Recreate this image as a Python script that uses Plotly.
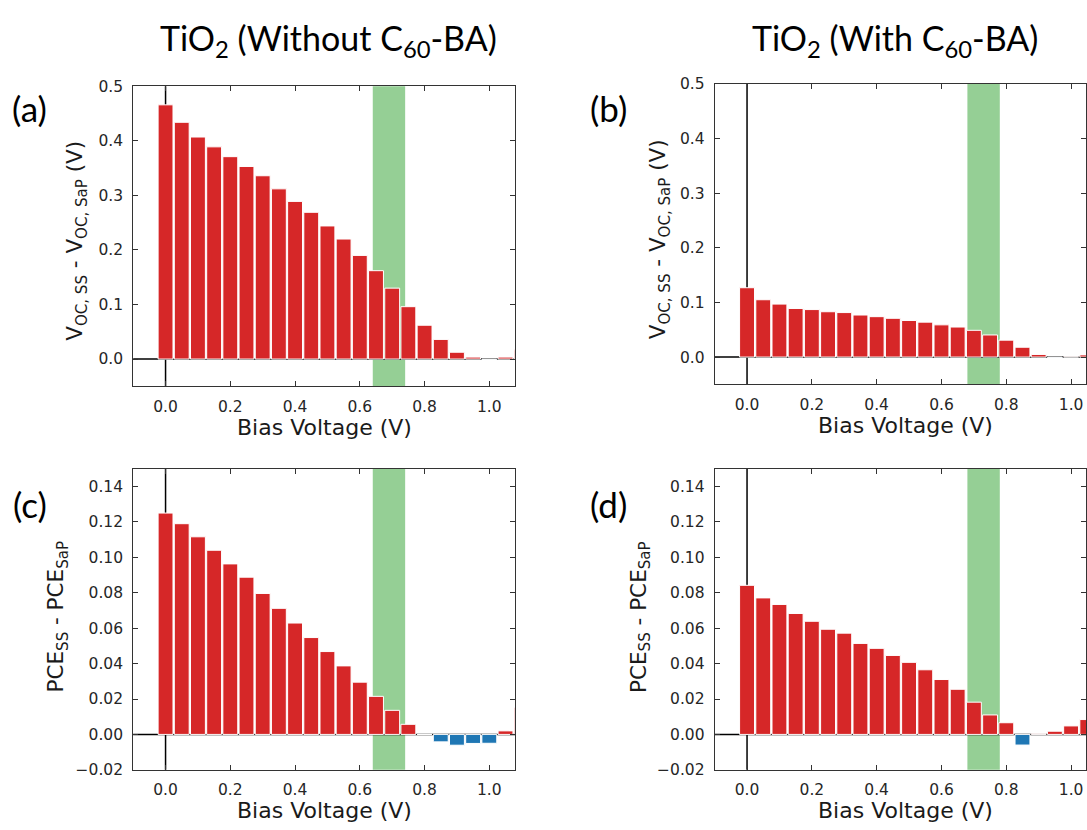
import plotly.graph_objects as go

W, H = 1087, 830

bias = [0.00, 0.05, 0.10, 0.15, 0.20, 0.25, 0.30, 0.35, 0.40, 0.45, 0.50,
        0.55, 0.60, 0.65, 0.70, 0.75, 0.80, 0.85, 0.90, 0.95, 1.00, 1.05, 1.10]

voc_without = [0.466, 0.434, 0.407, 0.389, 0.371, 0.353, 0.336, 0.312, 0.289, 0.269, 0.244,
               0.220, 0.190, 0.162, 0.130, 0.096, 0.062, 0.036, 0.0125, 0.0036, -0.001, 0.0036, 0.017]
voc_with = [0.127, 0.105, 0.097, 0.089, 0.087, 0.083, 0.0815, 0.077, 0.074, 0.071, 0.067,
            0.064, 0.059, 0.055, 0.049, 0.0405, 0.031, 0.018, 0.0048, -0.001, 0.0006, 0.004]
pce_without = [0.125, 0.119, 0.1116, 0.104, 0.0963, 0.0888, 0.0796, 0.0712, 0.0629, 0.0547, 0.0468,
               0.0387, 0.0295, 0.0215, 0.0136, 0.0057, 0.0, -0.0042, -0.0061, -0.0051, -0.005, 0.002, 0.0152]
pce_with = [0.0842, 0.0771, 0.0734, 0.0683, 0.0639, 0.0594, 0.0572, 0.0514, 0.0486, 0.0446, 0.0407,
            0.0365, 0.031, 0.0255, 0.0182, 0.011, 0.0066, -0.006, 0.0004, 0.0018, 0.0048, 0.0084]

band_without = [0.64, 0.74]
band_with = [0.68, 0.78]

col_titles = ["TiO<sub>2</sub> (Without C<sub>60</sub>-BA)", "TiO<sub>2</sub> (With C<sub>60</sub>-BA)"]
panel_labels = ["(a)", "(b)", "(c)", "(d)"]
voc_label = "V<sub>OC, SS</sub> - V<sub>OC, SaP</sub> (V)"
pce_label = "PCE<sub>SS</sub> - PCE<sub>SaP</sub>"
x_label = "Bias Voltage (V)"

RED = "#d62728"
BLUE = "#1f77b4"
GREEN = "rgba(44,160,44,0.5)"
FRAME = "#333333"
TICKFONT = dict(family="DejaVu Sans", size=15.5, color="#262626")

def px(x):
    return x / W

def py(y):
    return 1 - y / H

panels = [
    dict(vals=voc_without, band=band_without, xd=(133.3, 515.7), yd=(79.0, 385.7),
         xr=[-0.1, 1.08], yr=[-0.05, 0.5], yt=[0.0, 0.1, 0.2, 0.3, 0.4, 0.5], fmt=".1f"),
    dict(vals=voc_with, band=band_with, xd=(715.3, 1087.0), yd=(76.7, 383.7),
         xr=[-0.1, 1.046], yr=[-0.05, 0.5], yt=[0.0, 0.1, 0.2, 0.3, 0.4, 0.5], fmt=".1f"),
    dict(vals=pce_without, band=band_without, xd=(133.3, 515.7), yd=(470.0, 777.7),
         xr=[-0.1, 1.08], yr=[-0.02, 0.15],
         yt=[-0.02, 0.0, 0.02, 0.04, 0.06, 0.08, 0.10, 0.12, 0.14], fmt=".2f"),
    dict(vals=pce_with, band=band_with, xd=(715.3, 1087.0), yd=(470.0, 777.7),
         xr=[-0.1, 1.046], yr=[-0.02, 0.15],
         yt=[-0.02, 0.0, 0.02, 0.04, 0.06, 0.08, 0.10, 0.12, 0.14], fmt=".2f"),
]

fig = go.Figure()
layout = dict(width=W, height=H, margin=dict(l=0, r=0, t=0, b=0),
              paper_bgcolor="white", plot_bgcolor="white", showlegend=False)
shapes = []
for i, p in enumerate(panels, start=1):
    sx = "" if i == 1 else str(i)
    xs = bias[:len(p["vals"])]
    colors = [RED if v >= 0 else BLUE for v in p["vals"]]
    fig.add_trace(go.Bar(x=xs, y=p["vals"], width=0.046,
                         marker=dict(color=colors, line=dict(color="white", width=1)),
                         xaxis="x" + sx, yaxis="y" + sx, hoverinfo="x+y"))
    axis_common = dict(showline=True, linecolor=FRAME, linewidth=1, mirror="allticks",
                       ticks="inside", ticklen=5, tickwidth=1, tickcolor=FRAME,
                       showgrid=False, zeroline=False, tickfont=TICKFONT)
    layout["xaxis" + sx] = dict(axis_common, domain=[px(p["xd"][0]), px(p["xd"][1])],
                                range=p["xr"], anchor="y" + sx, ticklabelstandoff=6,
                                tickvals=[0.0, 0.2, 0.4, 0.6, 0.8, 1.0], tickformat=".1f")
    layout["yaxis" + sx] = dict(axis_common, domain=[py(p["yd"][1]), py(p["yd"][0])],
                                range=p["yr"], anchor="x" + sx, ticklabelstandoff=6,
                                tickvals=p["yt"], tickformat=p["fmt"])
    xref = "x" + sx
    yref = "y" + sx
    shapes.append(dict(type="rect", xref=xref, yref=yref + " domain",
                       x0=p["band"][0], x1=p["band"][1], y0=0, y1=1,
                       fillcolor=GREEN, line=dict(width=0), layer="below"))
    shapes.append(dict(type="line", xref=xref, yref=yref + " domain",
                       x0=0, x1=0, y0=0, y1=1, line=dict(color="black", width=1.5), layer="below"))
    shapes.append(dict(type="line", xref=xref + " domain", yref=yref,
                       x0=0, x1=1, y0=0, y1=0, line=dict(color="black", width=1.5), layer="below"))

layout["shapes"] = shapes

ann = []
TITLEFONT = dict(family="Lato", size=34, color="black")
for t, cx in zip(col_titles, [329, 895.5]):
    ann.append(dict(text=t, x=px(cx), y=py(32), xref="paper", yref="paper",
                    xanchor="center", yanchor="middle", showarrow=False, font=TITLEFONT))
for lab, (cx, cy) in zip(panel_labels, [(30, 101), (609, 101), (30, 506), (609, 506)]):
    ann.append(dict(text=lab, x=px(cx), y=py(cy), xref="paper", yref="paper",
                    xanchor="center", yanchor="middle", showarrow=False,
                    font=dict(family="Lato", size=35, color="black")))
AXFONT = dict(family="DejaVu Sans", size=22, color="#1a1a1a")
for cx, cy in [(324.5, 428), (906.6, 426), (324.5, 819), (906.6, 819)]:
    ann.append(dict(text=x_label, x=px(cx), y=py(cy), xref="paper", yref="paper",
                    xanchor="center", yanchor="middle", showarrow=False, font=AXFONT))
YFONT = dict(family="DejaVu Sans", size=21.5, color="#1a1a1a")
for lab, (cx, cy) in zip([voc_label, voc_label, pce_label, pce_label],
                         [(77, 237), (661, 235), (58, 621), (641, 621)]):
    ann.append(dict(text=lab, x=px(cx), y=py(cy), xref="paper", yref="paper",
                    xanchor="center", yanchor="middle", showarrow=False,
                    textangle=-90, font=YFONT))
layout["annotations"] = ann

fig.update_layout(**layout)
fig.write_html("out.html")
